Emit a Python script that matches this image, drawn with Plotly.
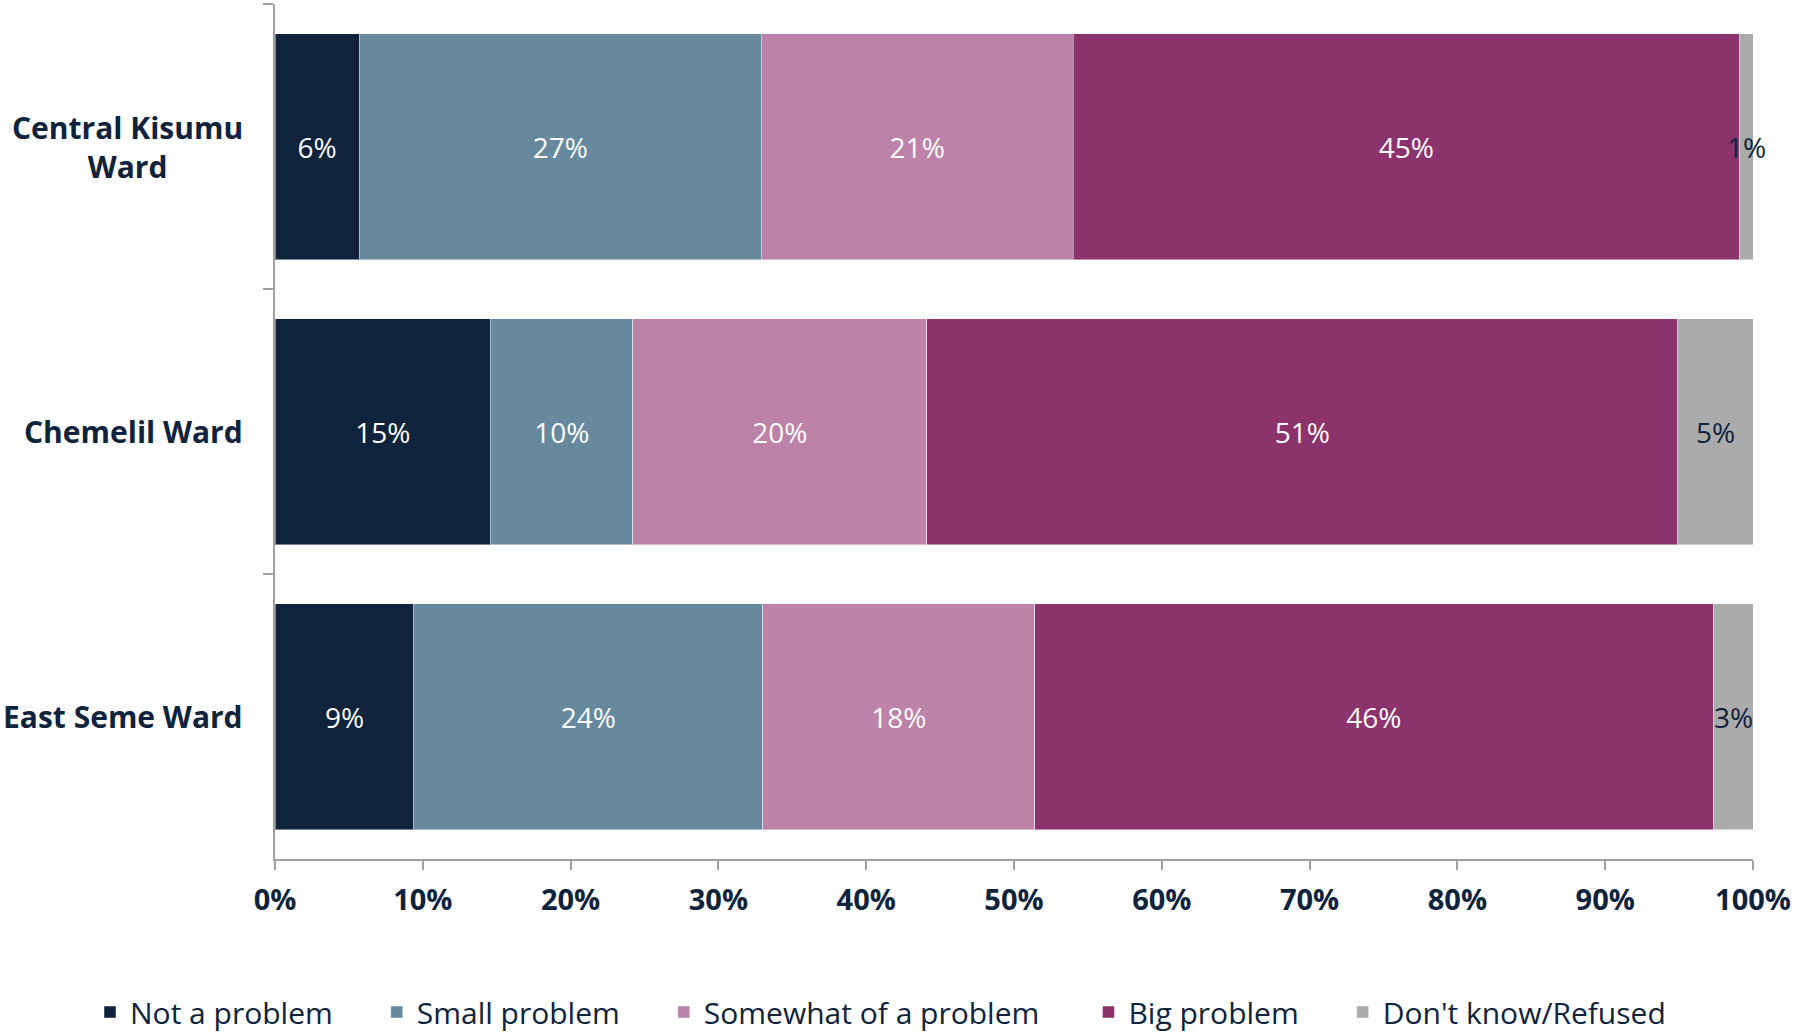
import plotly.graph_objects as go

categories = ["Central Kisumu Ward", "Chemelil Ward", "East Seme Ward"]
category_labels = ["Central Kisumu<br>Ward", "Chemelil Ward", "East Seme Ward"]

series_names = ["Not a problem", "Small problem", "Somewhat of a problem", "Big problem", "Don't know/Refused"]
not_a_problem = [5.7, 14.6, 9.4]
small_problem = [27.2, 9.6, 23.6]
somewhat_problem = [21.1, 19.9, 18.4]
big_problem = [45.1, 50.8, 45.9]
dont_know = [0.9, 5.1, 2.7]

x_ticks = [0, 10, 20, 30, 40, 50, 60, 70, 80, 90, 100]

series_values = [not_a_problem, small_problem, somewhat_problem, big_problem, dont_know]
colors = ["#0F233D", "#66899E", "#BC82A8", "#8C326C", "#ABABAB"]
legend_groups = ["legend", "legend", "legend", "legend2", "legend2"]
DARK = "#0F233D"
FONT = "Open Sans"
PAD = "\u00a0" * 5  # spacing after legend entries

fig = go.Figure()
for i, (name, vals, col, lg) in enumerate(zip(series_names, series_values, colors, legend_groups)):
    is_last = i == len(series_names) - 1
    fig.add_trace(go.Bar(
        name=name if is_last else name + PAD,
        y=categories,
        x=vals,
        orientation="h",
        legend=lg,
        marker=dict(color=col, line=dict(color="rgba(255,255,255,0.45)", width=1)),
        texttemplate="%{x:.0f}%",
        textposition="none" if is_last else "inside",
        insidetextanchor="middle",
        textfont=dict(family=FONT, size=28, color="white"),
        constraintext="none",
        hoverinfo="skip",
    ))

# labels for the thin last segment (drawn over the bar end)
for cat, vals in zip(categories, zip(*series_values)):
    start = sum(vals[:-1])
    fig.add_annotation(
        x=start + vals[-1] / 2, y=cat, xref="x", yref="y",
        text=f"{vals[-1]:.0f}%", showarrow=False,
        font=dict(family=FONT, size=28, color=DARK),
    )

# category labels (centered multi-line, right aligned block)
for cat, lab in zip(categories, category_labels):
    fig.add_annotation(
        x=0, y=cat, xref="paper", yref="y", xanchor="right", xshift=-30,
        text=lab, showarrow=False, align="center",
        font=dict(family=FONT, size=30, color=DARK, weight="bold"),
    )

legend_style = dict(
    orientation="h", xref="container", yref="container",
    xanchor="left", y=0.0203, yanchor="middle",
    font=dict(family=FONT, size=30, color=DARK),
    itemwidth=30, traceorder="normal",
)

fig.update_layout(
    barmode="stack",
    bargap=0.207,
    width=1800, height=1033,
    margin=dict(l=275, r=47, t=4, b=174),
    plot_bgcolor="white", paper_bgcolor="white",
    font=dict(family=FONT, color=DARK),
    legend=dict(x=0.05, **legend_style),
    legend2=dict(x=0.6047, **legend_style),
    showlegend=True,
)
fig.update_xaxes(
    range=[0, 100], tickvals=x_ticks, ticktext=[f"{t}%" for t in x_ticks],
    showgrid=False, zeroline=False,
    showline=True, linecolor="#A0A0A0", linewidth=1.5,
    ticks="outside", ticklen=9, tickcolor="#A0A0A0", tickwidth=1.5,
    tickfont=dict(family=FONT, size=29, color=DARK, weight="bold"),
    ticklabelstandoff=5,
)
fig.update_yaxes(
    categoryorder="array", categoryarray=categories, autorange="reversed",
    showticklabels=False, showgrid=False, zeroline=False,
    showline=True, linecolor="#A0A0A0", linewidth=1.5,
    ticks="outside", ticklen=10, tickcolor="#A0A0A0", tickwidth=1.5,
    tickson="boundaries",
)

fig.write_html("out.html", config={"displayModeBar": False},
               post_script="document.body.style.margin='0';")
